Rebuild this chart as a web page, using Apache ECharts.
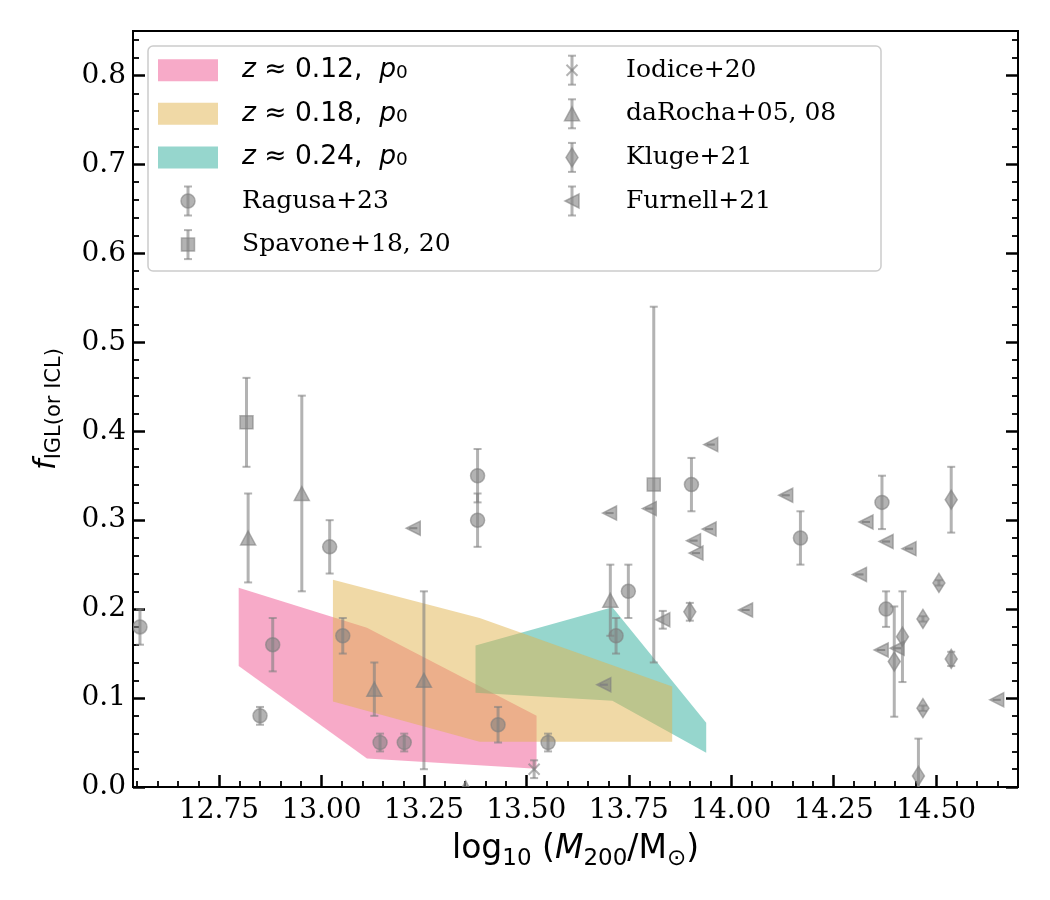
<!DOCTYPE html>
<html>
<head>
<meta charset="utf-8">
<script src="https://cdn.jsdelivr.net/npm/echarts@6/dist/echarts.min.js"></script>
<style>
html, body { margin: 0; padding: 0; background: #fff; }
#chart { width: 1050px; height: 900px; }
</style>
</head>
<body>
<div id="chart"></div>
<script>
// axis ranges and tick labels
const X_MIN = 12.54, X_MAX = 14.70;
const Y_MIN = 0, Y_MAX = 0.85;
const xMajor = [12.75, 13.00, 13.25, 13.50, 13.75, 14.00, 14.25, 14.50];
const yMajor = [0.0, 0.1, 0.2, 0.3, 0.4, 0.5, 0.6, 0.7, 0.8];
const xMinor = [];
for (let i = 251; i < 294; i++) if (i % 5) xMinor.push(+(i * 0.05).toFixed(2));
const yMinor = [];
for (let i = 1; i < 43; i++) if (i % 5) yMinor.push(+(i * 0.02).toFixed(2));

// model bands (fill between lo and hi)
const band012X = [12.798, 13.111, 13.525];
const band012Lo = [0.136, 0.032, 0.0205];
const band012Hi = [0.224, 0.179, 0.080];
const band018X = [13.028, 13.386, 13.856];
const band018Lo = [0.096, 0.051, 0.051];
const band018Hi = [0.233, 0.190, 0.113];
const band024X = [13.376, 13.710, 13.939];
const band024Lo = [0.106, 0.097, 0.0385];
const band024Hi = [0.159, 0.202, 0.0722];

// observations: x, y, symmetric error
const ragusaX = [12.557, 12.850, 12.881, 13.020, 13.052, 13.143, 13.202, 13.381, 13.381, 13.431, 13.553, 13.719, 13.749, 13.903, 14.169, 14.368, 14.378];
const ragusaY = [0.18, 0.08, 0.16, 0.27, 0.17, 0.05, 0.05, 0.35, 0.30, 0.07, 0.05, 0.17, 0.22, 0.34, 0.28, 0.32, 0.20];
const ragusaE = [0.02, 0.01, 0.03, 0.03, 0.02, 0.01, 0.01, 0.03, 0.03, 0.02, 0.01, 0.02, 0.03, 0.03, 0.03, 0.03, 0.02];

const spavoneX = [12.817, 13.811];
const spavoneY = [0.41, 0.34];
const spavoneE = [0.05, 0.20];

const iodiceX = [13.519];
const iodiceY = [0.02];
const iodiceE = [0.01];

const darochaX = [12.821, 12.952, 13.129, 13.250, 13.352, 13.705];
const darochaY = [0.28, 0.33, 0.11, 0.12, -0.001, 0.21];
const darochaE = [0.05, 0.11, 0.03, 0.10, 0.0, 0.04];

const klugeX = [13.899, 14.398, 14.418, 14.468, 14.507, 14.537, 14.537, 14.468, 14.457];
const klugeY = [0.197, 0.141, 0.169, 0.189, 0.2295, 0.144, 0.323, 0.0886, 0.0124];
const klugeE = [0.01, 0.062, 0.051, 0.003, 0.003, 0.008, 0.037, 0.003, 0.042];

const furnellX = [13.224, 13.689, 13.703, 13.800, 13.833, 13.908, 13.914, 13.946, 13.950, 14.035, 14.133, 14.313, 14.329, 14.366, 14.378, 14.405, 14.434, 14.648];
const furnellY = [0.291, 0.115, 0.308, 0.313, 0.188, 0.277, 0.263, 0.290, 0.385, 0.199, 0.328, 0.239, 0.298, 0.154, 0.276, 0.156, 0.268, 0.098];
const furnellE = [0, 0, 0, 0, 0.01, 0, 0, 0, 0, 0, 0, 0, 0, 0, 0, 0, 0, 0];

const PINK = 'rgba(239,85,145,0.5)';
const YELLOW = 'rgba(225,179,77,0.5)';
const TEAL = 'rgba(45,173,155,0.5)';
const GREY = 'rgba(128,128,128,0.6)';

const myChart = echarts.init(document.getElementById('chart'));

// marker shape at pixel (cx, cy)
function markerShape(kind, cx, cy, z) {
    const st = { fill: GREY, stroke: GREY, lineWidth: 1.5 };
    if (kind === 'circle') return { type: 'circle', z: z, shape: { cx: cx, cy: cy, r: 7 }, style: st };
    if (kind === 'rect') return { type: 'rect', z: z, shape: { x: cx - 6.5, y: cy - 6.5, width: 13, height: 13 }, style: st };
    if (kind === 'triangle') return { type: 'polygon', z: z, shape: { points: [[cx, cy - 7], [cx - 7.5, cy + 7], [cx + 7.5, cy + 7]] }, style: st };
    if (kind === 'diamond') return { type: 'polygon', z: z, shape: { points: [[cx, cy - 9.5], [cx - 6, cy], [cx, cy + 9.5], [cx + 6, cy]] }, style: st };
    if (kind === 'left') return { type: 'polygon', z: z, shape: { points: [[cx - 7, cy], [cx + 7, cy - 7], [cx + 7, cy + 7]] }, style: st };
    // x
    return {
        type: 'group', z: z, children: [
            { type: 'line', z: z, shape: { x1: cx - 5.5, y1: cy - 5.5, x2: cx + 5.5, y2: cy + 5.5 }, style: { stroke: GREY, lineWidth: 2 } },
            { type: 'line', z: z, shape: { x1: cx - 5.5, y1: cy + 5.5, x2: cx + 5.5, y2: cy - 5.5 }, style: { stroke: GREY, lineWidth: 2 } }
        ]
    };
}

function errShapes(top, bot, z) {
    return [
        { type: 'line', z: z, shape: { x1: top[0], y1: top[1], x2: bot[0], y2: bot[1] }, style: { stroke: GREY, lineWidth: 3 } },
        { type: 'line', z: z, shape: { x1: top[0] - 4, y1: top[1], x2: top[0] + 4, y2: top[1] }, style: { stroke: GREY, lineWidth: 2 } },
        { type: 'line', z: z, shape: { x1: bot[0] - 4, y1: bot[1], x2: bot[0] + 4, y2: bot[1] }, style: { stroke: GREY, lineWidth: 2 } }
    ];
}

// 填充帶
function bandSeries(name, xs, lo, hi, color) {
    return {
        type: 'custom',
        name: name,
        clip: true,
        silent: true,
        z: 2,
        data: xs.map((x, i) => [x, lo[i], hi[i]]),
        renderItem: function (params, api) {
            if (params.dataIndex !== 0) return null;
            const pts = xs.map((x, i) => api.coord([x, hi[i]]));
            for (let i = xs.length - 1; i >= 0; i--) pts.push(api.coord([xs[i], lo[i]]));
            return { type: 'polygon', shape: { points: pts }, style: { fill: color } };
        }
    };
}

// 誤差棒
function errSeries(xs, ys, es) {
    return {
        type: 'custom',
        clip: true,
        silent: true,
        z: 3,
        data: xs.map((x, i) => [x, ys[i], es[i]]),
        renderItem: function (params, api) {
            const x = api.value(0), y = api.value(1), e = api.value(2);
            return { type: 'group', children: errShapes(api.coord([x, y + e]), api.coord([x, y - e])) };
        }
    };
}

// 標記點
function markSeries(name, xs, ys, kind) {
    return {
        type: 'custom',
        name: name,
        clip: true,
        silent: true,
        z: 3,
        data: xs.map((x, i) => [x, ys[i]]),
        renderItem: function (params, api) {
            const p = api.coord([api.value(0), api.value(1)]);
            return markerShape(kind, p[0], p[1]);
        }
    };
}

// legend (drawn as graphic)
const legendRowY = i => 70.2 + 43.6 * i;
const LEG_TEXT = { fontFamily: 'DejaVu Serif', fontSize: 25, fill: '#000' };
const mathRich = {
    it: { fontFamily: 'DejaVu Sans', fontStyle: 'italic', fontSize: 26.5 },
    sub: { fontFamily: 'DejaVu Sans', fontSize: 18.5, padding: [6, 0, 0, 0] }
};

function legendIcon(kind, cx, cy) {
    const kids = errShapes([cx, cy - 14.5], [cx, cy + 14.5], 100);
    kids.push(markerShape(kind, cx, cy, 100));
    return { type: 'group', z: 100, children: kids };
}

const legendEls = [
    { type: 'rect', z: 99, shape: { x: 148, y: 46, width: 733, height: 225, r: 5 }, style: { fill: 'rgba(255,255,255,0.8)', stroke: '#cccccc', lineWidth: 1.5 } }
];
[['0.12', PINK], ['0.18', YELLOW], ['0.24', TEAL]].forEach(function (b, i) {
    const cy = legendRowY(i);
    legendEls.push({ type: 'rect', z: 100, shape: { x: 158, y: cy - 11, width: 60, height: 22 }, style: { fill: b[1] } });
    legendEls.push({ type: 'text', z: 100, x: 242, y: cy, style: Object.assign({}, LEG_TEXT, {
        fontFamily: 'DejaVu Sans', fontSize: 26.5, text: '{it|z} ≈ ' + b[0] + ',  {it|p}{sub|0}', rich: mathRich, verticalAlign: 'middle' }) });
});
[['circle', 'Ragusa+23', 0, 3], ['rect', 'Spavone+18, 20', 0, 4],
 ['x', 'Iodice+20', 1, 0], ['triangle', 'daRocha+05, 08', 1, 1], ['diamond', 'Kluge+21', 1, 2], ['left', 'Furnell+21', 1, 3]
].forEach(function (m) {
    const cy = legendRowY(m[3]);
    const ix = m[2] === 0 ? 188 : 572;
    const tx = m[2] === 0 ? 242 : 626;
    legendEls.push(legendIcon(m[0], ix, cy));
    legendEls.push({ type: 'text', z: 100, x: tx, y: cy, style: Object.assign({}, LEG_TEXT, { text: m[1], verticalAlign: 'middle' }) });
});

const axisLine = { show: true, onZero: false, lineStyle: { color: '#000', width: 2 } };
const majorTick = { show: true, inside: true, length: 12, lineStyle: { color: '#000', width: 2.5 } };
const minorTickAx = { show: true, inside: true, length: 6, lineStyle: { color: '#000', width: 1.8 } };
const tickLabel = { color: '#000', fontFamily: 'DejaVu Serif', fontSize: 28 };

const options = {
    animation: false,
    backgroundColor: '#fff',
    grid: { left: 133, right: 32, top: 31, bottom: 113, show: true, borderColor: '#000', borderWidth: 2 },
    xAxis: [
        {
            type: 'value', min: X_MIN, max: X_MAX, position: 'bottom',
            axisLine: axisLine,
            axisTick: Object.assign({ customValues: xMajor }, majorTick),
            axisLabel: Object.assign({ customValues: xMajor, margin: 10, formatter: v => v.toFixed(2) }, tickLabel),
            splitLine: { show: false },
            name: '{n|log}{s|10}{n| (}{i|M}{s|200}{n|/M}{s|⊙}{n|)}',
            nameLocation: 'middle',
            nameGap: 41,
            nameTextStyle: {
                color: '#000', fontFamily: 'DejaVu Sans', fontSize: 33,
                rich: {
                    n: { fontFamily: 'DejaVu Sans', fontSize: 33, color: '#000' },
                    i: { fontFamily: 'DejaVu Sans', fontStyle: 'italic', fontSize: 33, color: '#000' },
                    s: { fontFamily: 'DejaVu Sans', fontSize: 23, color: '#000', padding: [20, 0, 0, 0] }
                }
            }
        },
        {
            type: 'value', min: X_MIN, max: X_MAX, position: 'bottom',
            axisLine: { show: false },
            axisTick: Object.assign({ customValues: xMinor }, minorTickAx),
            axisLabel: { show: false },
            splitLine: { show: false }
        }
    ],
    yAxis: [
        {
            type: 'value', min: Y_MIN, max: Y_MAX, position: 'left',
            axisLine: axisLine,
            axisTick: Object.assign({ customValues: yMajor }, majorTick),
            axisLabel: Object.assign({ customValues: yMajor, margin: 7, formatter: v => v.toFixed(1) }, tickLabel),
            splitLine: { show: false },
            name: '{i|f}{s|IGL(or ICL)}',
            nameLocation: 'middle',
            nameRotate: 90,
            nameGap: 68,
            nameTextStyle: {
                color: '#000', fontFamily: 'DejaVu Sans', fontSize: 30,
                rich: {
                    i: { fontFamily: 'DejaVu Sans', fontStyle: 'italic', fontSize: 30, color: '#000' },
                    s: { fontFamily: 'DejaVu Sans', fontSize: 21, color: '#000', padding: [14, 0, 0, 0] }
                }
            }
        },
        {
            type: 'value', min: Y_MIN, max: Y_MAX, position: 'left',
            axisLine: { show: false },
            axisTick: Object.assign({ customValues: yMinor }, minorTickAx),
            axisLabel: { show: false },
            splitLine: { show: false }
        },
        {
            type: 'value', min: Y_MIN, max: Y_MAX, position: 'right',
            axisLine: axisLine,
            axisTick: Object.assign({ customValues: yMajor }, majorTick),
            axisLabel: { show: false },
            splitLine: { show: false }
        },
        {
            type: 'value', min: Y_MIN, max: Y_MAX, position: 'right',
            axisLine: { show: false },
            axisTick: Object.assign({ customValues: yMinor }, minorTickAx),
            axisLabel: { show: false },
            splitLine: { show: false }
        }
    ],
    graphic: { elements: legendEls },
    series: [
        bandSeries('z≈0.12', band012X, band012Lo, band012Hi, PINK),
        bandSeries('z≈0.24', band024X, band024Lo, band024Hi, TEAL),
        bandSeries('z≈0.18', band018X, band018Lo, band018Hi, YELLOW),
        errSeries(ragusaX, ragusaY, ragusaE),
        markSeries('Ragusa+23', ragusaX, ragusaY, 'circle'),
        errSeries(spavoneX, spavoneY, spavoneE),
        markSeries('Spavone+18, 20', spavoneX, spavoneY, 'rect'),
        errSeries(iodiceX, iodiceY, iodiceE),
        markSeries('Iodice+20', iodiceX, iodiceY, 'x'),
        errSeries(darochaX, darochaY, darochaE),
        markSeries('daRocha+05, 08', darochaX, darochaY, 'triangle'),
        errSeries(klugeX, klugeY, klugeE),
        markSeries('Kluge+21', klugeX, klugeY, 'diamond'),
        errSeries(furnellX, furnellY, furnellE),
        markSeries('Furnell+21', furnellX, furnellY, 'left')
    ]
};

myChart.setOption(options);
</script>
</body>
</html>
